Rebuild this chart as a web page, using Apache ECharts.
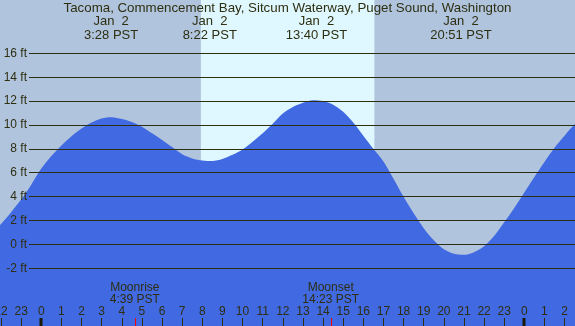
<!DOCTYPE html>
<html>
<head>
<meta charset="utf-8">
<script src="https://cdn.jsdelivr.net/npm/echarts@6/dist/echarts.min.js"></script>
<style>
html, body { margin: 0; padding: 0; background: #b0c4de; }
#tide { width: 575px; height: 326px; }
</style>
</head>
<body>
<div id="tide"></div>
<script>
// tide height (ft) read every half hour, hour 0 = midnight Jan 2
var hours = [-3, -2.5, -2, -1.5, -1, -0.5, 0, 0.5, 1, 1.5, 2, 2.5, 3, 3.5, 4, 4.5, 5, 5.5, 6, 6.5, 7, 7.5, 8, 8.5, 9, 9.5,
    10, 10.5, 11, 11.5, 12, 12.5, 13, 13.5, 14, 14.5, 15, 15.5, 16, 16.5, 17, 17.5, 18, 18.5, 19, 19.5,
    20, 20.5, 21, 21.5, 22, 22.5, 23, 23.5, 24, 24.5, 25, 25.5, 26, 26.5, 27];
var tideFt = [0.0, 0.8, 1.7, 2.7, 3.75, 5.0, 6.35, 7.4, 8.28, 9.05, 9.7, 10.2, 10.55, 10.65, 10.5, 10.25, 9.85, 9.3, 8.75, 8.15, 7.55, 7.2, 7.02, 6.98, 7.15, 7.5,
    7.95, 8.6, 9.3, 10.1, 10.95, 11.5, 11.85, 12.07, 12.0, 11.7, 11.1, 10.2, 9.1, 8.0, 6.95, 5.5, 3.98, 2.6, 1.36, 0.35,
    -0.4, -0.78, -0.87, -0.65, -0.15, 0.7, 1.85, 3.05, 4.35, 5.65, 6.9, 8.1, 9.1, 10.05, 10.8];

var daylight = [7.93, 16.55]; // sunrise / sunset, hours

var eventHours = [3.47, 8.37, 13.67, 20.85];
var eventDates = ['Jan  2', 'Jan  2', 'Jan  2', 'Jan  2'];
var eventTimes = ['3:28 PST', '8:22 PST', '13:40 PST', '20:51 PST'];

var moonHours = [4.65, 14.38];
var moonNames = ['Moonrise', 'Moonset'];
var moonTimes = ['4:39 PST', '14:23 PST'];

var title = 'Tacoma, Commencement Bay, Sitcum Waterway, Puget Sound, Washington';

var ink = '#2e2e10';
var font = 'Liberation Sans, Arial, sans-serif';

var tideChart = echarts.init(document.getElementById('tide'));

var option = {
    backgroundColor: '#b0c4de',
    animation: false,
    textStyle: { fontFamily: font },
    grid: [
        { left: -19.1, right: -9.7, top: 0, bottom: 0, outerBoundsMode: 'none', containLabel: false },
        { left: 29, right: 0, top: 53.3, bottom: 57.7, outerBoundsMode: 'none', containLabel: false }
    ],
    xAxis: [
        {
            type: 'value', gridIndex: 0, min: -3, max: 27, interval: 1,
            axisLine: { show: false, onZero: false },
            splitLine: { show: false },
            axisTick: { inside: true, length: 8, lineStyle: { color: ink, width: 1 } },
            axisLabel: {
                inside: true, margin: 8, fontSize: 12, color: ink, fontFamily: font,
                formatter: function (v) { return String(((v % 24) + 24) % 24); }
            },
            z: 6
        },
        { type: 'value', gridIndex: 1, min: 0, max: 1, show: false }
    ],
    yAxis: [
        { type: 'value', gridIndex: 0, min: -6.83, max: 20.46, show: false },
        {
            type: 'value', gridIndex: 1, min: -2, max: 16, interval: 2,
            axisLine: { show: false },
            axisTick: { show: false },
            axisLabel: { formatter: '{value} ft', fontSize: 12, color: ink, margin: 2, fontFamily: font },
            splitLine: { lineStyle: { color: ink, width: 1 } },
            z: 5
        }
    ],
    series: [
        {
            // daylight band
            type: 'line', xAxisIndex: 0, yAxisIndex: 0, z: 1,
            data: [[daylight[0], 0]], symbol: 'none', lineStyle: { width: 0 },
            markArea: {
                silent: true,
                itemStyle: { color: '#dff8ff' },
                data: [[{ xAxis: daylight[0] }, { xAxis: daylight[1] }]]
            }
        },
        {
            type: 'line', xAxisIndex: 0, yAxisIndex: 0, z: 3,
            data: hours.map(function (h, i) { return [h, tideFt[i]]; }),
            smooth: 0.3, symbol: 'none',
            lineStyle: { width: 0 },
            areaStyle: { color: '#4169e1', opacity: 1, origin: 'start' }
        }
    ]
};

tideChart.setOption(option);

// text and marks along the time axis
var graphics = [];
graphics.push({ type: 'text', x: 287.5, y: 8.5, z: 10,
    style: { text: title, fill: ink, font: '13.3px ' + font, textAlign: 'center', textVerticalAlign: 'middle' } });

eventHours.forEach(function (h, i) {
    var x = tideChart.convertToPixel({ xAxisIndex: 0 }, h);
    graphics.push({ type: 'text', x: x, y: 21.5, z: 10,
        style: { text: eventDates[i], fill: ink, font: '13px ' + font, textAlign: 'center', textVerticalAlign: 'middle' } });
    graphics.push({ type: 'text', x: x, y: 35, z: 10,
        style: { text: eventTimes[i], fill: ink, font: '13px ' + font, textAlign: 'center', textVerticalAlign: 'middle' } });
});

moonHours.forEach(function (h, i) {
    var x = tideChart.convertToPixel({ xAxisIndex: 0 }, h);
    graphics.push({ type: 'text', x: x, y: 287.3, z: 10,
        style: { text: moonNames[i], fill: ink, font: '12px ' + font, textAlign: 'center', textVerticalAlign: 'middle' } });
    graphics.push({ type: 'text', x: x, y: 299.3, z: 10,
        style: { text: moonTimes[i], fill: ink, font: '12px ' + font, textAlign: 'center', textVerticalAlign: 'middle' } });
    graphics.push({ type: 'line', z: 10,
        shape: { x1: Math.round(x) + 0.5, y1: 318, x2: Math.round(x) + 0.5, y2: 326 },
        style: { stroke: '#ff0000', lineWidth: 1 } });
});

[0, 24].forEach(function (h) {
    var x = tideChart.convertToPixel({ xAxisIndex: 0 }, h);
    graphics.push({ type: 'rect', z: 10,
        shape: { x: Math.round(x) - 1.5, y: 318, width: 3, height: 8 },
        style: { fill: '#1a1a08' } });
});

tideChart.setOption({ graphic: graphics });
</script>
</body>
</html>
